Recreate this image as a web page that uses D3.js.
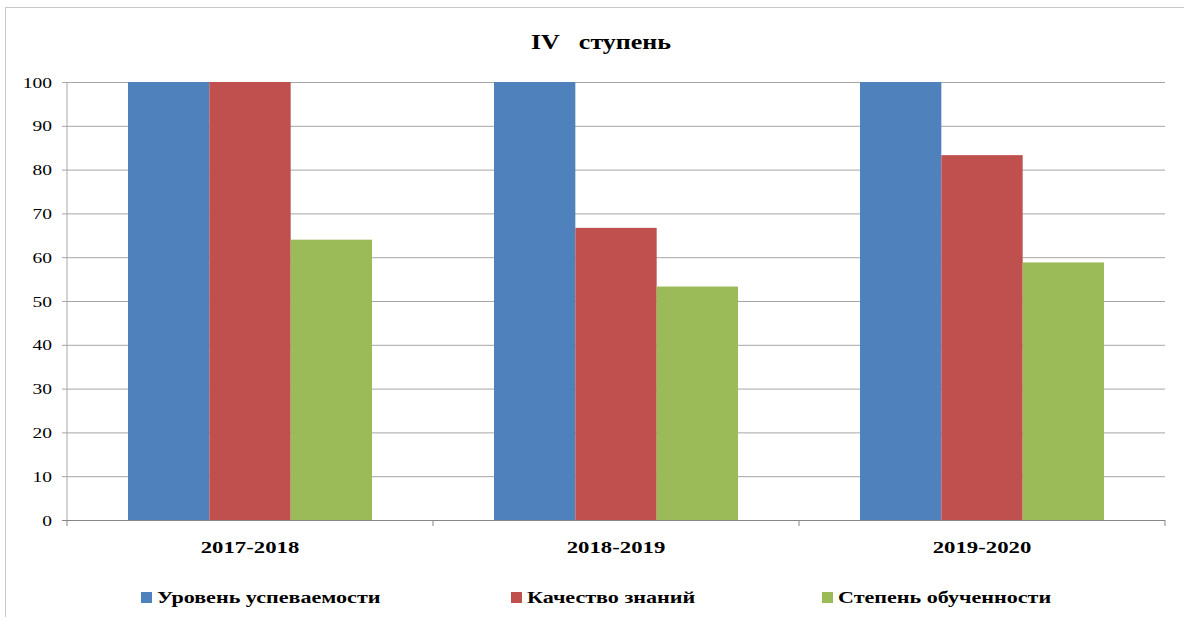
<!DOCTYPE html>
<html>
<head>
<meta charset="utf-8">
<script src="https://cdn.jsdelivr.net/npm/d3@7"></script>
<style>
  body { margin: 0; background: #fff; }
  svg { display: block; }
  svg text { font-family: "Liberation Serif", "Times New Roman", serif; }
</style>
</head>
<body>
<script>
// data
const years = ["2017-2018", "2018-2019", "2019-2020"];
const seriesNames = ["Уровень успеваемости", "Качество знаний", "Степень обученности"];
const uspevaemost = [100, 100, 100];
const kachestvo = [100, 66.7, 83.3];
const obuchennost = [64, 53.3, 58.8];
const yTicks = [0, 10, 20, 30, 40, 50, 60, 70, 80, 90, 100];
const colors = ["#4F81BD", "#C0504D", "#9BBB59"];

const width = 1184, height = 617;
const margin = { left: 67, top: 82, right: 19, bottom: 97 };
// the reference text is drawn horizontally stretched
const stretch = 1.3;

const svg = d3.select("body").append("svg")
  .attr("width", width)
  .attr("height", height);

// places a text with its anchor at (tx, ty) and stretches it sideways
function wideText(sel, tx, ty) {
  return sel.attr("transform", `translate(${tx},${ty}) scale(${stretch},1)`);
}

//#region frame
svg.append("rect")
  .attr("x", 5.5).attr("y", 7.5)
  .attr("width", width - 4).attr("height", height)
  .attr("fill", "none")
  .attr("stroke", "#c8c8c8");
//#endregion

//#region scales
const x = d3.scaleBand()
  .domain(years)
  .range([margin.left, width - margin.right]);

const seriesValues = [uspevaemost, kachestvo, obuchennost];
const inner = d3.scaleBand()
  .domain(d3.range(seriesNames.length))
  .range([x.bandwidth() / 6, x.bandwidth() * 5 / 6]);

const y = d3.scaleLinear()
  .domain([0, 100])
  .range([height - margin.bottom, margin.top]);
//#endregion

//#region grid + y axis
const yAxis = d3.axisLeft(y)
  .tickValues(yTicks)
  .tickSize(-(width - margin.left - margin.right))
  .tickSizeOuter(0);

const gy = svg.append("g")
  .attr("transform", `translate(${margin.left},0)`)
  .call(yAxis);
gy.select(".domain").remove();
gy.selectAll(".tick line")
  .attr("x1", -5)
  .attr("stroke", "#a6a6a6");
gy.selectAll(".tick text")
  .attr("x", null)
  .attr("dy", null)
  .attr("font-family", null)
  .style("font-size", "15px")
  .attr("fill", "#000")
  .call(wideText, -15, 5);

svg.append("line")
  .attr("x1", margin.left).attr("x2", margin.left)
  .attr("y1", y(100)).attr("y2", y(0))
  .attr("stroke", "#a6a6a6");
//#endregion

//#region bars
const groups = svg.append("g")
  .selectAll("g")
  .data(years)
  .join("g")
  .attr("transform", d => `translate(${x(d)},0)`);

groups.selectAll("rect")
  .data((d, i) => seriesValues.map((vals, s) => ({ s, v: vals[i] })))
  .join("rect")
  .attr("x", d => inner(d.s))
  .attr("width", inner.bandwidth())
  .attr("y", d => y(d.v))
  .attr("height", d => y(0) - y(d.v))
  .attr("fill", d => colors[d.s]);
//#endregion

//#region x axis
const xAxis = d3.axisBottom(x).tickSize(0);
const gx = svg.append("g")
  .attr("transform", `translate(0,${y(0)})`)
  .call(xAxis);
gx.attr("font-family", null);
gx.select(".domain").attr("stroke", "#868686").attr("d", `M${margin.left - 5},0.5H${width - margin.right}`);
gx.selectAll(".tick text")
  .attr("y", null)
  .attr("dy", null)
  .style("font-size", "17.5px")
  .attr("font-weight", "bold")
  .attr("fill", "#000")
  .call(wideText, 0, 33);

const boundaries = years.map(d => x(d)).concat([x(years[years.length - 1]) + x.bandwidth()]);
gx.selectAll(".sep")
  .data(boundaries)
  .join("line")
  .attr("class", "sep")
  .attr("x1", d => d).attr("x2", d => d)
  .attr("y1", 0).attr("y2", 6)
  .attr("stroke", "#868686");
//#endregion

//#region title
svg.append("text")
  .attr("text-anchor", "middle")
  .style("font-size", "20px")
  .attr("font-weight", "bold")
  .attr("xml:space", "preserve")
  .text("IV   ступень")
  .call(wideText, 601, 49);
//#endregion

//#region legend
const legendX = [141, 511, 822];
const legend = svg.append("g")
  .selectAll("g")
  .data(seriesNames)
  .join("g")
  .attr("transform", (d, i) => `translate(${legendX[i]}, 597)`);

legend.append("rect")
  .attr("x", 0).attr("y", -5)
  .attr("width", 11).attr("height", 11)
  .attr("fill", (d, i) => colors[i]);

legend.append("text")
  .style("font-size", "17px")
  .attr("font-weight", "bold")
  .text(d => d)
  .call(wideText, 16, 6);
//#endregion
</script>
</body>
</html>
